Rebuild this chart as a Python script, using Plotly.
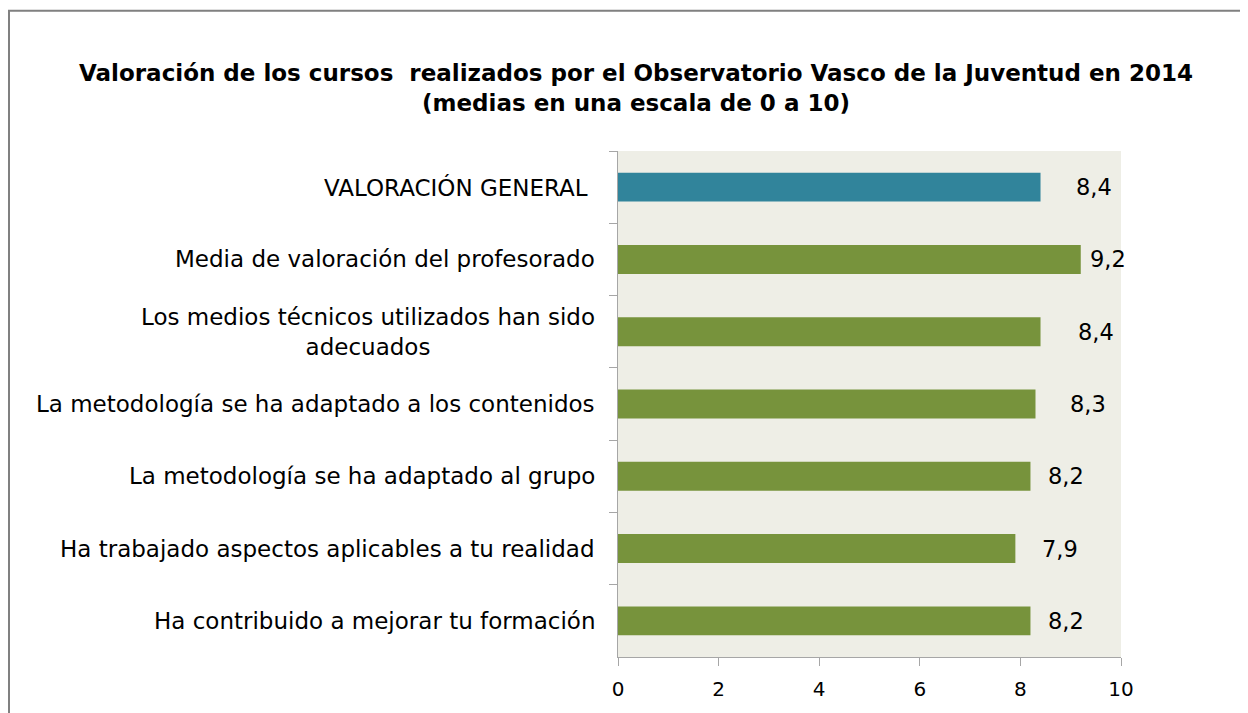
import plotly.graph_objects as go

categories = [
    "VALORACIÓN GENERAL ",
    "Media de valoración del profesorado",
    "Los medios técnicos utilizados han sido<br>adecuados",
    "La metodología se ha adaptado a los contenidos",
    "La metodología se ha adaptado al grupo",
    "Ha trabajado aspectos aplicables a tu realidad",
    "Ha contribuido a mejorar tu formación",
]
values = [8.4, 9.2, 8.4, 8.3, 8.2, 7.9, 8.2]
x_ticks = [0, 2, 4, 6, 8, 10]

colors = ["#31849B"] + ["#77933C"] * 6
label_offsets = [33, 7, 35, 33, 16, 25, 16]

FONT = "DejaVu Sans"
# page body has an 8px margin, so figure coords = screen coords - 8
W, H = 1240, 705
L, R, T, B = 610, 1113, 143, 652

fig = go.Figure(go.Bar(
    y=categories, x=values, orientation="h",
    marker=dict(color=colors, line=dict(width=0)),
    width=0.4, hoverinfo="skip",
))

annotations = []
for c in categories:
    annotations.append(dict(
        x=0, xref="paper", y=c, yref="y", xanchor="right", yanchor="middle",
        xshift=-21, text=c, showarrow=False, align="center",
        font=dict(family=FONT, size=23, color="#000000"),
    ))
for c, v, off in zip(categories, values, label_offsets):
    annotations.append(dict(
        x=v, xref="x", y=c, yref="y", xanchor="left", yanchor="middle",
        xshift=off, text=f"{v:.1f}".replace(".", ","), showarrow=False,
        font=dict(family=FONT, size=22.5, color="#000000"),
    ))

pw, ph = R - L, B - T
fig.update_layout(
    width=W, height=H,
    margin=dict(l=L, r=W - R, t=T, b=H - B, pad=0),
    paper_bgcolor="#FFFFFF", plot_bgcolor="#EEEEE6",
    separators=",.",
    showlegend=False,
    title=dict(
        text="<b>Valoración de los cursos  realizados por el Observatorio Vasco de la Juventud en 2014<br>(medias en una escala de 0 a 10)</b>",
        x=628 / W, xanchor="center", y=1 - 73 / H, yanchor="top",
        font=dict(family=FONT, size=23, color="#000000"),
    ),
    xaxis=dict(
        range=[0, 10], tickvals=x_ticks, ticktext=[str(t) for t in x_ticks],
        showgrid=False, zeroline=False, showline=True, linecolor="#A6A6A6", linewidth=1,
        ticks="outside", ticklen=8, tickcolor="#A6A6A6",
        tickfont=dict(family=FONT, size=20, color="#000000"),
        ticklabelstandoff=6, fixedrange=True,
    ),
    yaxis=dict(
        categoryorder="array", categoryarray=categories, autorange="reversed",
        showgrid=False, zeroline=False, showline=True, linecolor="#A6A6A6", linewidth=1,
        ticks="outside", ticklen=8, tickcolor="#A6A6A6", tickson="boundaries",
        showticklabels=False, fixedrange=True,
    ),
    annotations=annotations,
    shapes=[dict(
        type="rect", xref="paper", yref="paper", layer="above",
        x0=(1 - L) / pw, x1=(1300 - L) / pw,
        y0=(B - 760) / ph, y1=(B - 2) / ph,
        line=dict(color="#808080", width=2), fillcolor="rgba(0,0,0,0)",
    )],
)

fig.write_html("out.html")
